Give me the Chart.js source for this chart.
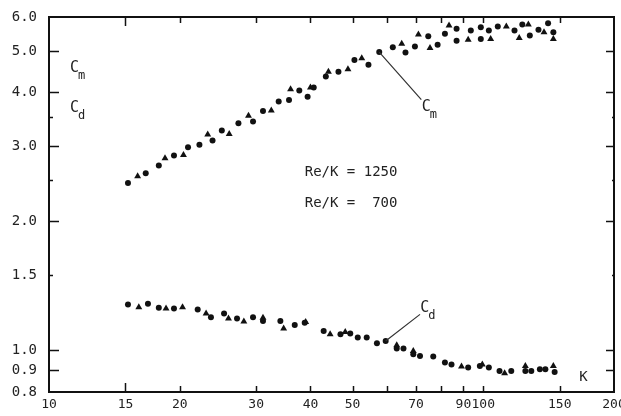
<!DOCTYPE html>
<html>
<head>
<meta charset="utf-8">
<script src="https://cdn.jsdelivr.net/npm/chart.js@4/dist/chart.umd.min.js"></script>
<style>
html, body { margin: 0; padding: 0; background: #fff; }
#wrap { width: 621px; height: 416px; position: relative; }
</style>
</head>
<body>
<div id="wrap"><canvas id="myChart"></canvas></div>
<script>
// axis ticks
var kTicks = [10, 15, 20, 30, 40, 50, 60, 70, 80, 90, 100, 150, 200];
var kLabels = ['10', '15', '20', '30', '40', '50', '', '70', '', '90', '100', '150', '200'];
var cTicks = [0.8, 0.9, 1.0, 1.5, 2.0, 2.5, 3.0, 3.5, 4.0, 5.0, 6.0];
var cLabels = ['0.8', '0.9', '1.0', '1.5', '2.0', '', '3.0', '', '4.0', '5.0', '6.0'];
var cShort = [1.5, 2.5, 3.5];

// Re/K = 1250 (circles)
var kCm1250 = [15.2, 16.7, 17.9, 19.4, 20.9, 22.2, 23.8, 25.0, 27.3, 29.5, 31.1, 33.8, 35.7, 37.7, 39.4, 40.7,
  43.4, 46.4, 50.5, 54.4, 57.6, 61.9, 66.2, 69.6, 74.7, 78.5, 81.6, 86.8, 86.8, 93.6, 98.7, 98.7, 103, 108,
  118, 123, 128, 134, 141, 145];
var cm1250 = [2.46, 2.59, 2.70, 2.85, 2.98, 3.02, 3.09, 3.26, 3.39, 3.42, 3.62, 3.81, 3.84, 4.04, 3.91, 4.11,
  4.36, 4.47, 4.76, 4.64, 4.97, 5.10, 4.96, 5.12, 5.41, 5.17, 5.48, 5.63, 5.28, 5.58, 5.68, 5.33, 5.58, 5.70,
  5.58, 5.76, 5.43, 5.60, 5.80, 5.53];
var kCd1250 = [15.2, 16.9, 17.9, 19.4, 22.0, 23.6, 25.3, 27.1, 29.5, 31.1, 34.1, 36.8, 38.8, 42.9, 46.9, 49.4,
  51.4, 53.9, 56.9, 59.6, 63.2, 65.5, 69.0, 71.5, 76.7, 81.6, 84.5, 92.3, 98.2, 103, 109, 116, 125, 129, 135,
  139, 146];
var cd1250 = [1.281, 1.286, 1.258, 1.253, 1.247, 1.196, 1.219, 1.188, 1.196, 1.171, 1.171, 1.146, 1.161, 1.110,
  1.091, 1.096, 1.072, 1.072, 1.039, 1.052, 1.010, 1.010, 0.980, 0.971, 0.968, 0.937, 0.928, 0.912, 0.920,
  0.912, 0.896, 0.896, 0.896, 0.896, 0.904, 0.904, 0.891];

// Re/K = 700 (triangles)
var kCm700 = [16.0, 18.5, 20.4, 23.2, 26.0, 28.8, 32.5, 36.0, 40.0, 44.0, 48.8, 52.5, 64.9, 70.9, 75.4, 83.4,
  92.3, 104, 113, 121, 127, 138, 145];
var cm700 = [2.55, 2.81, 2.86, 3.19, 3.20, 3.53, 3.63, 4.07, 4.11, 4.47, 4.53, 4.81, 5.20, 5.46, 5.08, 5.73,
  5.31, 5.33, 5.70, 5.36, 5.76, 5.53, 5.33];
var kCd700 = [16.1, 18.6, 20.3, 23.0, 25.9, 28.1, 31.1, 34.7, 39.0, 44.4, 48.1, 63.2, 69.0, 89.1, 99.5, 112,
  125, 145];
var cd700 = [1.262, 1.253, 1.262, 1.219, 1.188, 1.168, 1.193, 1.126, 1.165, 1.091, 1.104, 1.028, 0.997, 0.917,
  0.928, 0.885, 0.920, 0.920];

var seriesNames = ['Re/K = 1250', 'Re/K =  700'];

function pts(ks, vs) {
  return ks.map(function (k, i) { return { x: k, y: vs[i] }; });
}

var FONT = '"DejaVu Sans Mono", monospace';
var INK = '#222';

// frame, inward tick marks and annotations
var paperPlugin = {
  id: 'paper',
  afterDraw: function (chart) {
    var ctx = chart.ctx, a = chart.chartArea;
    var xs = chart.scales.x, ys = chart.scales.y;
    ctx.save();
    ctx.strokeStyle = '#111';
    ctx.lineWidth = 2;
    ctx.strokeRect(a.left, a.top, a.right - a.left, a.bottom - a.top);

    ctx.lineWidth = 1.5;
    ctx.beginPath();
    kTicks.forEach(function (v, i) {
      if (i === 0 || i === kTicks.length - 1) return;
      var px = Math.round(xs.getPixelForValue(v)) + 0.5;
      var len = (v === 15) ? 9 : 6;
      ctx.moveTo(px, a.bottom); ctx.lineTo(px, a.bottom - len);
      ctx.moveTo(px, a.top); ctx.lineTo(px, a.top + len);
    });
    cTicks.forEach(function (v, i) {
      if (i === 0 || i === cTicks.length - 1) return;
      var py = Math.round(ys.getPixelForValue(v)) + 0.5;
      var len = cShort.indexOf(v) >= 0 ? 4 : 10;
      ctx.moveTo(a.left, py); ctx.lineTo(a.left + len, py);
      ctx.moveTo(a.right, py); ctx.lineTo(a.right - len + 2, py);
    });
    ctx.stroke();

    // leader lines
    ctx.lineWidth = 1.2;
    ctx.strokeStyle = '#333';
    ctx.beginPath();
    ctx.moveTo(xs.getPixelForValue(57.6), ys.getPixelForValue(4.97));
    ctx.lineTo(xs.getPixelForValue(72.0), ys.getPixelForValue(3.85));
    ctx.moveTo(xs.getPixelForValue(59.6), ys.getPixelForValue(1.052));
    ctx.lineTo(xs.getPixelForValue(71.5), ys.getPixelForValue(1.214));
    ctx.stroke();

    ctx.fillStyle = INK;
    function coef(sub, x, y) {
      ctx.textAlign = 'left';
      ctx.textBaseline = 'alphabetic';
      ctx.font = '15px ' + FONT;
      ctx.fillText('C', x, y);
      ctx.font = '12px ' + FONT;
      ctx.fillText(sub, x + 8, y + 7);
    }
    coef('m', a.left + 21, 72);
    coef('d', a.left + 21, 112);
    coef('m', xs.getPixelForValue(72.2), ys.getPixelForValue(3.62));
    coef('d', xs.getPixelForValue(71.6), ys.getPixelForValue(1.23));

    ctx.font = '14px ' + FONT;
    ctx.textBaseline = 'middle';
    ctx.textAlign = 'left';
    ctx.fillText(seriesNames[0], xs.getPixelForValue(38.8), ys.getPixelForValue(2.61));
    ctx.fillText(seriesNames[1], xs.getPixelForValue(38.8), ys.getPixelForValue(2.20));
    ctx.textAlign = 'center';
    ctx.fillText('K', xs.getPixelForValue(170), ys.getPixelForValue(0.866));
    ctx.restore();
  }
};

var circle = { pointStyle: 'circle', pointRadius: 3, backgroundColor: '#111', borderColor: '#111', borderWidth: 0 };
var tri = { pointStyle: 'triangle', pointRadius: 4, backgroundColor: '#111', borderColor: '#111', borderWidth: 0 };

var ctx = document.getElementById('myChart').getContext('2d');

var chart = new Chart(ctx, {
  type: 'scatter',
  data: {
    datasets: [
      Object.assign({ label: seriesNames[0] + ' Cm', data: pts(kCm1250, cm1250) }, circle),
      Object.assign({ label: seriesNames[0] + ' Cd', data: pts(kCd1250, cd1250) }, circle),
      Object.assign({ label: seriesNames[1] + ' Cm', data: pts(kCm700, cm700) }, tri),
      Object.assign({ label: seriesNames[1] + ' Cd', data: pts(kCd700, cd700) }, tri)
    ]
  },
  options: {
    responsive: true,
    maintainAspectRatio: false,
    animation: false,
    layout: { padding: { top: 17, right: 7, left: 0, bottom: 0 } },
    plugins: { legend: { display: false }, tooltip: { enabled: false } },
    scales: {
      x: {
        type: 'logarithmic',
        min: 10,
        max: 200,
        grid: { display: false, drawTicks: false },
        border: { display: false },
        afterBuildTicks: function (s) { s.ticks = kTicks.map(function (v) { return { value: v }; }); },
        afterFit: function (s) { s.height = 24; s.paddingLeft = 0; s.paddingRight = 0; },
        ticks: {
          autoSkip: false,
          maxRotation: 0,
          padding: 5,
          color: '#222',
          font: { family: FONT, size: 13 },
          callback: function (v, i) { return kLabels[i]; }
        }
      },
      y: {
        type: 'logarithmic',
        min: 0.8,
        max: 6.0,
        grid: { display: false, drawTicks: false },
        border: { display: false },
        afterBuildTicks: function (s) { s.ticks = cTicks.map(function (v) { return { value: v }; }); },
        afterFit: function (s) { s.width = 49; s.paddingTop = 0; s.paddingBottom = 0; },
        ticks: {
          autoSkip: false,
          padding: 12,
          color: '#222',
          font: { family: FONT, size: 14 },
          callback: function (v, i) { return cLabels[i]; }
        }
      }
    }
  },
  plugins: [paperPlugin]
});
</script>
</body>
</html>
